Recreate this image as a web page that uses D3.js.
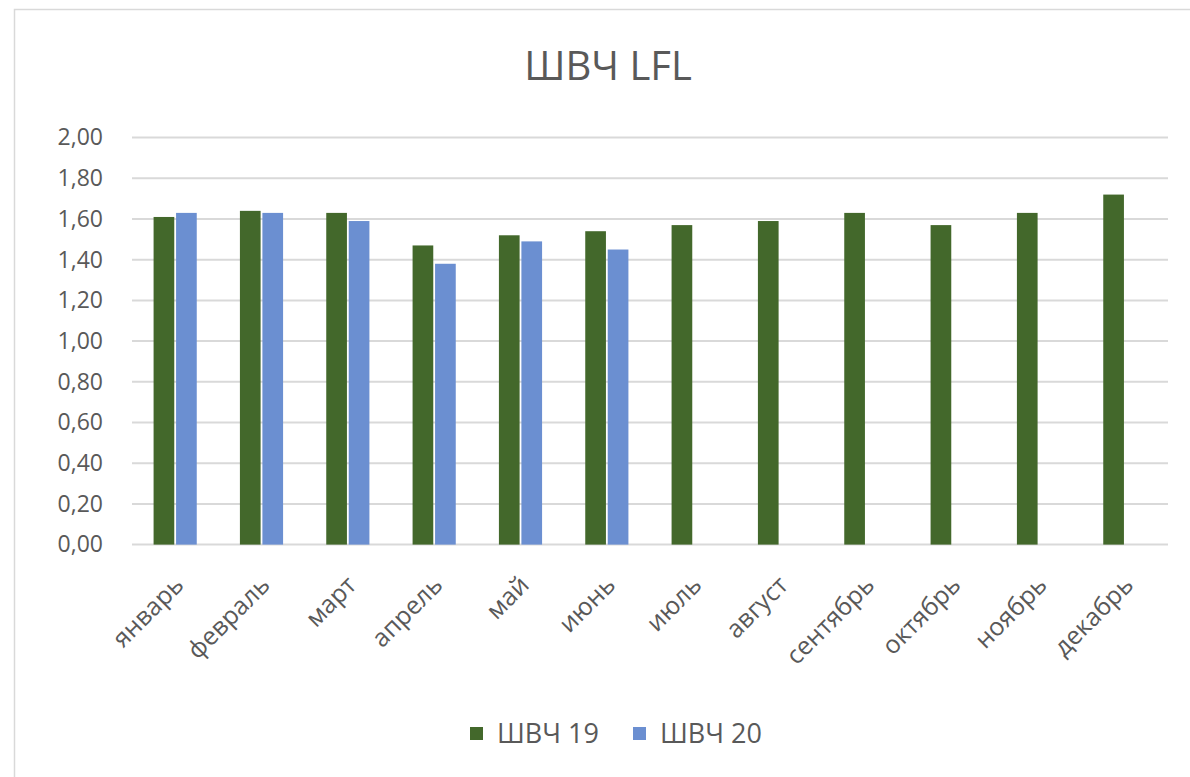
<!DOCTYPE html>
<html><head><meta charset="utf-8">
<script src="https://cdn.jsdelivr.net/npm/d3@7"></script>
<style>body{margin:0;background:#fff}svg{display:block}</style>
</head><body>
<svg id="c" width="1190" height="777"></svg>
<script>
const categories = ["январь","февраль","март","апрель","май","июнь","июль","август","сентябрь","октябрь","ноябрь","декабрь"];
const seriesNames = ["ШВЧ 19","ШВЧ 20"];
const values19 = [1.61,1.64,1.63,1.47,1.52,1.54,1.57,1.59,1.63,1.57,1.63,1.72];
const values20 = [1.63,1.63,1.59,1.38,1.49,1.45,null,null,null,null,null,null];
const yTicks = [0,0.2,0.4,0.6,0.8,1.0,1.2,1.4,1.6,1.8,2.0];
const colors = ["#43682b","#6b8fd1"];
const title = "ШВЧ LFL";

(function(){
const svg = d3.select("#c");
const font = "'Open Sans', sans-serif";
const textColor = "#595959";

svg.append("rect").attr("x",14.5).attr("y",9.5).attr("width",1200).attr("height",800)
  .attr("fill","#fff").attr("stroke","#d9d9d9").attr("stroke-width",1.5);

const pL = 132, pR = 1168, pT = 137.6, pB = 544.6;
const y = d3.scaleLinear().domain([0,2]).range([pB, pT]);
const x0 = d3.scaleBand().domain(categories).range([pL,pR]).paddingInner(0.5).paddingOuter(0.25);
const x1 = d3.scaleBand().domain(seriesNames).range([0,x0.bandwidth()]).paddingInner(0.08);

const fmt = v => d3.format(".2f")(v).replace(".", ",");

svg.append("g").selectAll("line").data(yTicks).join("line")
  .attr("x1",pL).attr("x2",pR).attr("y1",d=>y(d)).attr("y2",d=>y(d))
  .attr("stroke","#d9d9d9").attr("stroke-width",2);

const yAxis = d3.axisLeft(y).tickValues(yTicks).tickFormat(fmt).tickSize(0).tickPadding(0);
const ya = svg.append("g").attr("transform",`translate(103,0)`).call(yAxis);
ya.select(".domain").remove();
ya.selectAll("text").attr("font-family",font).attr("font-size",23).attr("fill",textColor);

const data = categories.map((c,i)=>({c, vals:[values19[i],values20[i]]}));
const g = svg.append("g");
data.forEach(d=>{
  d.vals.forEach((v,j)=>{
    if(v==null) return;
    g.append("rect")
      .attr("x", x0(d.c)+x1(seriesNames[j]))
      .attr("y", y(v))
      .attr("width", x1.bandwidth())
      .attr("height", y(0)-y(v))
      .attr("fill", colors[j]);
  });
});

const xa = svg.append("g").attr("transform",`translate(0,${pB})`)
  .call(d3.axisBottom(x0).tickSize(0).tickPadding(0));
xa.select(".domain").remove();
xa.selectAll("text")
  .attr("font-family",font).attr("font-size",25).attr("fill",textColor)
  .attr("text-anchor","end")
  .attr("dy",0)
  .attr("transform","translate(10,42) rotate(-45)");

svg.append("text").attr("x",608).attr("y",80).attr("text-anchor","middle")
  .attr("font-family",font).attr("font-size",40).attr("fill",textColor).text(title);

const legX = [470,633];
seriesNames.forEach((s,i)=>{
  svg.append("rect").attr("x",legX[i]).attr("y",727).attr("width",13).attr("height",13).attr("fill",colors[i]);
  svg.append("text").attr("x",legX[i]+27).attr("y",743).attr("font-family",font).attr("font-size",27)
    .attr("fill",textColor).text(s);
});
})();
</script>
</body></html>
